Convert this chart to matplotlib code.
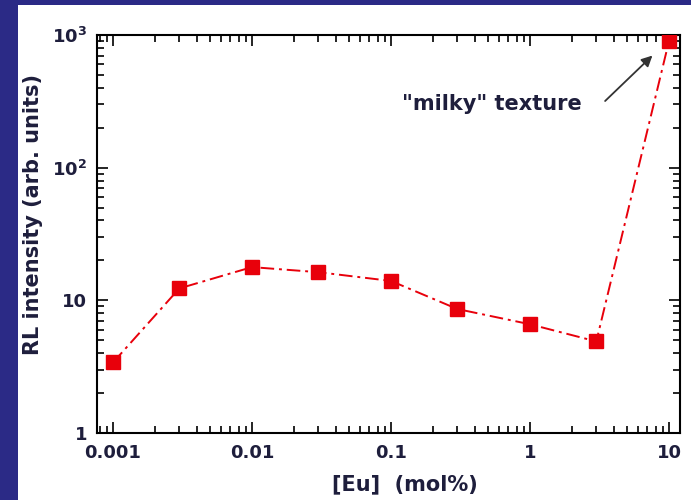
import matplotlib
matplotlib.use("Agg")
import matplotlib.pyplot as plt
from matplotlib.patches import Rectangle
from matplotlib.ticker import FixedLocator, FixedFormatter, LogLocator, NullFormatter

plt.rcParams["font.family"] = ["DejaVu Sans"]
plt.rcParams["font.weight"] = "bold"
plt.rcParams["mathtext.default"] = "bf"

# data
eu_conc = [0.001, 0.003, 0.01, 0.03, 0.1, 0.3, 1, 3, 10]
rl_intensity = [3.4, 12.3, 17.8, 16.3, 14.0, 8.6, 6.6, 4.9, 900]

x_ticks = [0.001, 0.01, 0.1, 1, 10]
x_ticklabels = ["0.001", "0.01", "0.1", "1", "10"]
y_ticks = [1, 10, 100, 1000]
y_ticklabels = ["1", "10", r"10$^{2}$", r"10$^{3}$"]

text_col = "#1e1e3c"

fig = plt.figure(figsize=(6.91, 5.0), dpi=100)
fig.patch.set_facecolor("#2b2a86")
# white slide panel behind the chart
fig.patches.append(Rectangle((18 / 691, 0), 1, 1 - 5 / 500, transform=fig.transFigure,
                             facecolor="white", edgecolor="none", zorder=-10))

ax = fig.add_axes([97 / 691, 67 / 500, 583 / 691, 398 / 500])
ax.set_zorder(5)
ax.set_xscale("log")
ax.set_yscale("log")
ax.set_xlim(0.000767, 12.0)
ax.set_ylim(1, 1000)

ax.plot(eu_conc, rl_intensity, color="#e8000b", lw=1.4, linestyle=(0, (7, 2.5, 1.5, 2.5)),
        marker="s", markersize=10, markeredgecolor="#e8000b", zorder=3)

ax.xaxis.set_major_locator(FixedLocator(x_ticks))
ax.xaxis.set_major_formatter(FixedFormatter(x_ticklabels))
ax.yaxis.set_major_locator(FixedLocator(y_ticks))
ax.yaxis.set_major_formatter(FixedFormatter(y_ticklabels))
ax.xaxis.set_minor_locator(LogLocator(base=10, subs=range(2, 10), numticks=20))
ax.yaxis.set_minor_locator(LogLocator(base=10, subs=range(2, 10), numticks=20))
ax.xaxis.set_minor_formatter(NullFormatter())
ax.yaxis.set_minor_formatter(NullFormatter())

ax.tick_params(which="both", direction="in", top=True, right=True, width=1.2,
               colors="black", labelcolor=text_col, labelsize=13)
ax.tick_params(which="major", length=8)
ax.tick_params(axis="x", which="major", pad=8)
ax.tick_params(axis="y", which="major", pad=7)
ax.tick_params(which="minor", length=5)
for lbl in ax.get_xticklabels() + ax.get_yticklabels():
    lbl.set_fontweight("bold")
for s in ax.spines.values():
    s.set_linewidth(1.5)

ax.set_xlabel("[Eu]  (mol%)", fontsize=15, fontweight="bold", color=text_col, labelpad=6)
ax.set_ylabel("RL intensity (arb. units)", fontsize=15, fontweight="bold", color=text_col, labelpad=7)
ax.xaxis.set_label_coords(0.528, -0.105)
ax.yaxis.label.set_y(0.548)

ax.text(0.533, 300, "\"milky\" texture", fontsize=15, fontweight="bold", color=text_col,
        ha="center", va="center")
ax.annotate("", xy=(7.6, 700), xytext=(3.47, 318),
            arrowprops=dict(arrowstyle="-|>", color="#333333", lw=1.3, mutation_scale=16,
                            shrinkA=0, shrinkB=0))

fig.savefig("out.png", dpi=100)
